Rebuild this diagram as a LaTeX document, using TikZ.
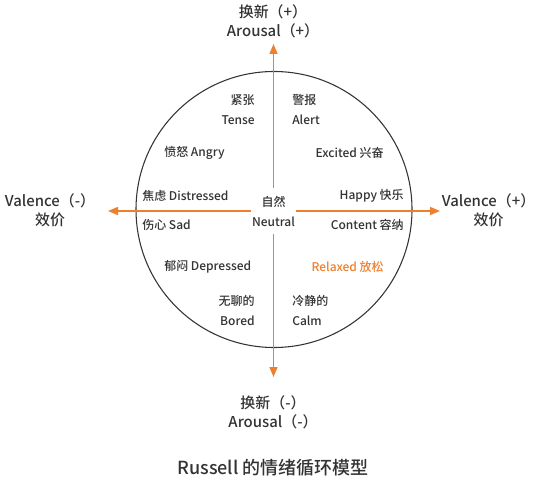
\documentclass[tikz,border=0pt]{standalone}
\usepackage{fontspec}
\setmainfont{Noto Sans CJK SC Medium}
\usetikzlibrary{arrows.meta}
\definecolor{accent}{HTML}{EE7F2D}
\definecolor{inkgray}{HTML}{333333}

\begin{document}
\begin{tikzpicture}[
      %% one unit = one pixel of the 535x485 sheet, y runs downwards
      x=0.75pt, y=-0.75pt,
      %% emotion words inside the circle
      emo/.style={font=\fontsize{9}{15}\selectfont, text=inkgray, inner sep=0pt},
      %% the four pole labels
      pole/.style={font=\fontsize{11.2}{14.25}\selectfont, text=inkgray,
                   align=center, inner sep=0pt},
      axisarr/.style={-{Triangle[length=7.5pt,width=6pt]}, draw=accent, line width=1.1pt},
      ring/.style={draw=inkgray, line width=0.8pt},
    ]
    \useasboundingbox (0,0) rectangle (535,485);

    %% ── Circle ──────────────────────────────────────────────────────────────
    \coordinate (O) at (274,209.5);
    \draw[ring] (O) circle[radius=103.5pt];

    %% ── Centre and axis tips ────────────────────────────────────────────────
    \node[emo, align=center, fill=white, minimum width=33pt, minimum height=34pt]
      (neutral) at (273.5,211) {自然\\Neutral};

    \coordinate (arousalHiTip) at (273.5,44);
    \coordinate (arousalLoTip) at (273.5,377);
    \coordinate (valenceLoTip) at (108,211);
    \coordinate (valenceHiTip) at (440,211);

    %% ── Axes ────────────────────────────────────────────────────────────────
    \draw[axisarr] (neutral.north) -- (arousalHiTip);
    \draw[axisarr] (neutral.south) -- (arousalLoTip);
    \draw[axisarr] (neutral.west)  -- (valenceLoTip);
    \draw[axisarr] (neutral.east)  -- (valenceHiTip);

    %% ── Pole labels ─────────────────────────────────────────────────────────
    \node[pole] (arousalHi) at (273,21.5)  {换新（+）\\Arousal（+）};
    \node[pole] (arousalLo) at (273,412.5) {换新（-）\\Arousal（-）};
    \node[pole] (valenceLo) at (50,210.5)  {Valence（-）\\效价};
    \node[pole] (valenceHi) at (488.5,210.5) {Valence（+）\\效价};

    %% ── Emotions, upper half ────────────────────────────────────────────────
    \node[emo, anchor=east, align=right] (tense)   at (255,110) {紧张\\Tense};
    \node[emo, anchor=west, align=left]  (alert)   at (292,110) {警报\\Alert};
    \node[emo, anchor=west]  (angry)      at (164,153) {愤怒 Angry};
    \node[emo, anchor=east]  (excited)    at (384,153) {Excited 兴奋};
    \node[emo, anchor=west]  (distressed) at (142,196) {焦虑 Distressed};
    \node[emo, anchor=east]  (happy)      at (404,196) {Happy 快乐};

    %% ── Emotions, lower half ────────────────────────────────────────────────
    \node[emo, anchor=west]  (sad)        at (142,225) {伤心 Sad};
    \node[emo, anchor=east]  (content)    at (404,225) {Content 容纳};
    \node[emo, anchor=west]  (depressed)  at (164,267) {郁闷 Depressed};
    \node[emo, anchor=east, text=accent] (relaxed) at (384,267) {Relaxed 放松};
    \node[emo, anchor=east, align=right] (bored) at (255,311) {无聊的\\Bored};
    \node[emo, anchor=west, align=left]  (calm)  at (292,311) {冷静的\\Calm};

    %% ── Caption ─────────────────────────────────────────────────────────────
    \node[font=\fontsize{13.5}{16}\selectfont, text=inkgray] (caption) at (273,468)
      {Russell 的情绪循环模型};
  \end{tikzpicture}
\end{document}
